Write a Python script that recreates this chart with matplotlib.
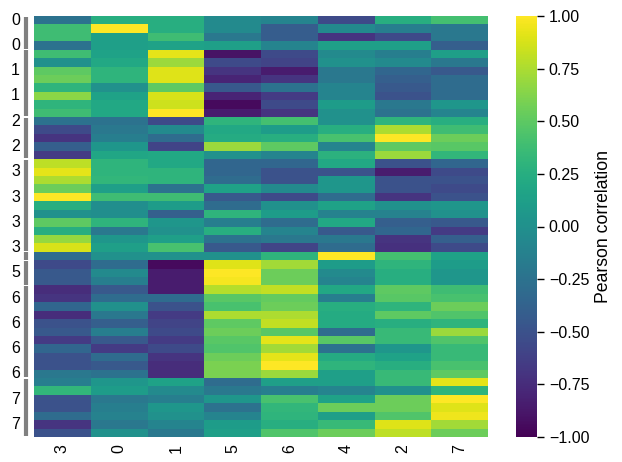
import numpy as np
import pandas as pd
import matplotlib
matplotlib.use('Agg')
import matplotlib.pyplot as plt
import matplotlib.transforms as mtransforms
import seaborn as sns

plt.rcParams['font.family'] = ['Liberation Sans', 'DejaVu Sans']
plt.rcParams['font.size'] = 11.5

# cluster label of each row (top to bottom)
row_groups = [0] * 4 + [1] * 8 + [2] * 5 + [3] * 11 + [4] * 1 + [5] * 3 + [6] * 11 + [7] * 7
col_labels = ['3', '0', '1', '5', '6', '4', '2', '7']

# correlation values per column, top to bottom
corr_3 = [-0.25, 0.38, 0.38, -0.25, 0.38, 0.0, 0.5, 0.55, 0.3, 0.65,
          0.3, 0.38, -0.25, -0.55, -0.7, -0.4, -0.65, 0.8, 0.92, 0.75,
          0.55, 1.0, 0.25, 0.0, 0.5, 0.25, 0.68, 0.88, -0.3, -0.55,
          -0.45, -0.45, -0.75, -0.7, -0.35, -0.75, -0.5, -0.45, -0.65, -0.35,
          -0.5, -0.5, -0.2, -0.15, 0.32, -0.5, -0.5, -0.3, -0.7, -0.5]
corr_0 = [0.25, 1.0, 0.12, 0.12, 0.15, 0.2, 0.3, 0.3, 0.0, 0.15,
          0.2, 0.2, -0.25, -0.2, -0.15, 0.05, 0.18, 0.3, 0.3, 0.32,
          0.12, 0.38, -0.02, -0.02, 0.3, -0.2, 0.05, 0.12, 0.0, -0.3,
          -0.05, -0.15, -0.45, -0.3, 0.0, -0.2, -0.4, -0.15, -0.45, -0.65,
          -0.3, -0.45, -0.25, 0.05, 0.1, -0.2, -0.15, -0.12, -0.2, 0.0]
corr_1 = [0.25, 0.25, 0.38, 0.15, 0.92, 0.7, 0.9, 0.9, 0.5, 0.88,
          0.85, 1.0, -0.55, -0.05, -0.3, -0.6, 0.2, 0.2, 0.3, 0.3,
          -0.25, 0.38, 0.1, -0.4, 0.05, 0.0, 0.12, 0.42, 0.0, -0.95,
          -0.85, -0.85, -0.85, -0.3, -0.5, -0.65, -0.6, -0.55, -0.65, -0.55,
          -0.7, -0.75, -0.75, 0.15, -0.05, -0.15, 0.05, 0.0, -0.1, -0.2]
corr_5 = [-0.05, -0.05, -0.2, 0.12, -0.9, -0.55, -0.7, -0.8, -0.45, -0.8,
          -0.95, -0.85, 0.3, 0.2, 0.22, 0.7, 0.0, -0.35, -0.35, -0.3,
          0.15, -0.45, -0.3, 0.3, -0.15, 0.25, -0.25, -0.45, 0.0, 0.9,
          1.0, 0.97, 0.78, 0.48, 0.42, 0.75, 0.5, 0.55, 0.48, 0.45,
          0.55, 0.6, 0.6, -0.3, -0.2, 0.05, -0.25, -0.1, 0.1, 0.12]
corr_6 = [-0.1, -0.42, -0.42, -0.1, -0.55, -0.6, -0.85, -0.7, -0.25, -0.65,
          -0.55, -0.7, 0.4, 0.1, 0.25, 0.5, -0.1, -0.35, -0.5, -0.5,
          -0.05, -0.55, 0.0, 0.1, -0.3, -0.1, -0.2, -0.6, 0.3, 0.72,
          0.55, 0.55, 0.82, 0.52, 0.55, 0.75, 0.82, 0.48, 0.92, 0.72,
          0.92, 1.0, 0.7, 0.12, -0.15, 0.42, 0.32, 0.3, 0.25, 0.45]
corr_4 = [-0.55, -0.05, -0.7, 0.12, -0.05, 0.0, -0.2, -0.2, -0.1, -0.1,
          0.1, 0.0, 0.0, 0.25, 0.42, -0.1, 0.28, 0.2, -0.5, 0.05,
          0.05, -0.3, 0.15, -0.12, 0.2, -0.45, -0.2, -0.3, 1.0, 0.1,
          -0.05, -0.1, 0.2, -0.15, 0.25, 0.22, 0.22, -0.3, 0.48, -0.25,
          0.22, 0.3, 0.12, 0.12, -0.1, 0.15, 0.55, 0.12, 0.35, 0.55]
corr_2 = [0.25, -0.15, -0.55, 0.12, -0.15, -0.05, -0.35, -0.4, -0.45, -0.5,
          -0.2, -0.25, 0.3, 0.75, 1.0, 0.5, 0.7, -0.5, -0.85, -0.5,
          -0.5, -0.7, 0.0, -0.12, -0.4, -0.35, -0.7, -0.72, 0.4, 0.3,
          0.25, 0.25, 0.5, 0.48, 0.3, 0.5, 0.25, 0.35, 0.35, 0.05,
          0.15, 0.25, 0.35, 0.35, 0.0, 0.55, 0.55, 0.45, 0.9, 0.8]
corr_7 = [0.4, -0.2, -0.2, -0.4, 0.12, -0.2, -0.45, -0.3, -0.3, -0.3,
          0.05, -0.1, 0.25, 0.38, 0.55, 0.48, 0.32, -0.35, -0.55, -0.5,
          -0.55, -0.5, 0.05, 0.0, -0.45, -0.65, -0.4, -0.55, 0.15, 0.1,
          0.05, 0.05, 0.38, 0.42, 0.55, 0.45, 0.3, 0.7, 0.45, 0.35,
          0.35, 0.42, 0.5, 0.92, 0.3, 1.0, 0.9, 0.95, 0.72, 0.55]

df = pd.DataFrame(np.array([corr_3, corr_0, corr_1, corr_5, corr_6,
                            corr_4, corr_2, corr_7]).T,
                  columns=col_labels, index=row_groups)

fig = plt.figure(figsize=(6.22, 4.62), dpi=100)
ax = fig.add_axes([34 / 622, 25 / 462, 454 / 622, 421 / 462])
cax = fig.add_axes([516 / 622, 25 / 462, 21 / 622, 421 / 462])

sns.heatmap(df, ax=ax, cbar_ax=cax, cmap='viridis', vmin=-1, vmax=1,
            yticklabels=3, cbar=True)
ax.tick_params(length=0)
ax.tick_params(axis='y', pad=10)
ax.tick_params(axis='x', pad=5)
plt.setp(ax.get_xticklabels(), rotation=90)
plt.setp(ax.get_yticklabels(), rotation=0)
cax.set_yticks(np.arange(-1, 1.01, 0.25))
cax.tick_params(length=5, width=1)
cax.set_ylabel('Pearson correlation', fontsize=12.7)
for s in cax.spines.values():
    s.set_visible(False)

# grey bar marking the row groups
trans = mtransforms.blended_transform_factory(ax.transAxes, ax.transData)
groups = np.array(row_groups)
start = 0
for g in pd.unique(groups):
    n = int((groups == g).sum())
    ax.plot([-0.018, -0.018], [start + 0.08, start + n - 0.08], color='grey',
            lw=3, solid_capstyle='butt', transform=trans, clip_on=False)
    start += n

fig.savefig('out.png', dpi=100)
